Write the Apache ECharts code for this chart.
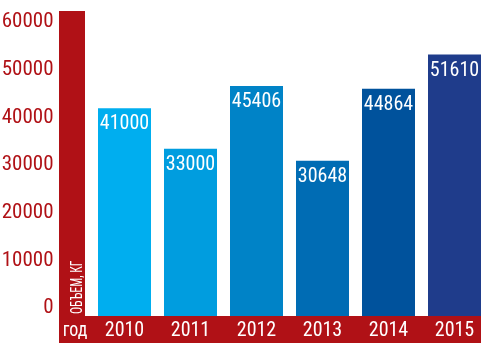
<!DOCTYPE html>
<html>
<head>
<meta charset="utf-8">
<script src="https://cdn.jsdelivr.net/npm/echarts@6/dist/echarts.min.js"></script>
<style>
  html, body { margin: 0; padding: 0; background: #fff; }
  #main { width: 492px; height: 354px; }
</style>
</head>
<body>
<div id="main"></div>
<script>
var chartDom = document.getElementById('main');
var myChart = echarts.init(chartDom);
var option;

let years = ['2010', '2011', '2012', '2013', '2014', '2015'];
let volumes = [41000, 33000, 45406, 30648, 44864, 51610];
let barColors = ['#00aeef', '#009ddf', '#0083c7', '#006cb4', '#00529c', '#1f3c8b'];
let yTicks = [0, 10000, 20000, 30000, 40000, 50000, 60000];

let red = '#b01116';
// 'condensed' goes into the canvas font string -> Roboto Condensed
let font = 'Roboto';
let stretch = 'condensed';

option = {
  animation: false,
  grid: {
    left: 91.5,
    right: 4.5,
    top: 12,
    bottom: 38,
    outerBoundsMode: 'none'
  },
  // red frame: y-axis band and year band
  graphic: [
    { type: 'rect', shape: { x: 59, y: 11, width: 26, height: 332 }, style: { fill: red }, z: 0 },
    { type: 'rect', shape: { x: 59, y: 316, width: 422, height: 27 }, style: { fill: red }, z: 0 },
    {
      type: 'text', x: 78, y: 314, rotation: Math.PI / 2, scaleX: 0.74, z: 10,
      style: { text: 'ОБЪЕМ, КГ', fill: '#fff', font: stretch + ' 16px ' + font, align: 'left', verticalAlign: 'middle' }
    },
    {
      type: 'text', x: 75, y: 331, scaleX: 0.9, z: 10,
      style: { text: 'год', fill: '#fff', font: stretch + ' 20px ' + font, align: 'center', verticalAlign: 'middle' }
    }
  ],
  xAxis: {
    type: 'category',
    data: years,
    axisLine: { show: false },
    axisTick: { show: false },
    axisLabel: {
      interval: 0,
      color: '#fff',
      fontFamily: font,
      fontStyle: stretch,
      fontSize: 20,
      margin: 5,
      verticalAlign: 'top'
    },
    z: 10
  },
  yAxis: [
    {
      type: 'value',
      min: 0,
      max: 60000,
      interval: 10000,
      axisLabel: { show: false },
      axisLine: { show: false },
      axisTick: { show: false },
      splitLine: { show: false }
    },
    {
      // label-only axis, slightly compressed like the source artwork
      type: 'value',
      position: 'left',
      min: -1680,
      max: 62100,
      axisLine: { show: false },
      axisTick: { show: false },
      splitLine: { show: false },
      axisLabel: {
        customValues: yTicks,
        showMinLabel: true,
        hideOverlap: false,
        formatter: function (v) { return String(v); },
        color: red,
        fontFamily: font,
        fontStyle: stretch,
        fontSize: 21,
        margin: 38
      }
    }
  ],
  series: [
    {
      type: 'bar',
      data: volumes.map(function (v, i) {
        return { value: v, itemStyle: { color: barColors[i] } };
      }),
      barWidth: 53,
      label: {
        show: true,
        position: 'insideTop',
        distance: 6,
        color: '#fff',
        fontFamily: font,
        fontStyle: stretch,
        fontSize: 20
      }
    }
  ]
};

option && myChart.setOption(option);
</script>
</body>
</html>
